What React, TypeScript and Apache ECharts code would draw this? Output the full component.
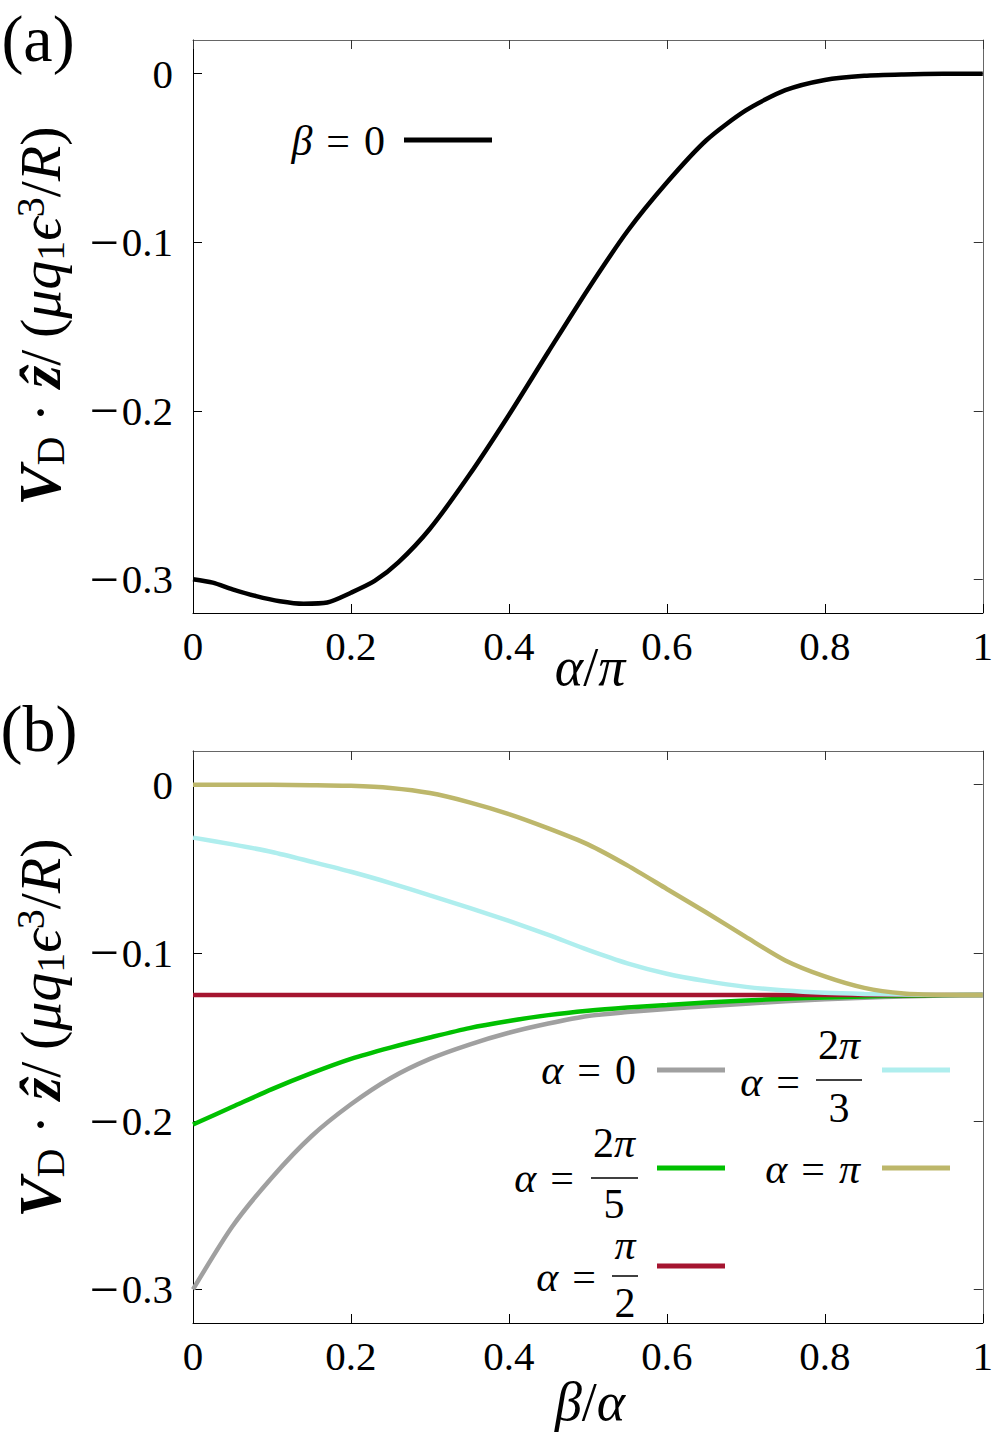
import React, { useEffect, useRef } from "react";
import * as echarts from "echarts";

// ---------- data ----------
// panel (a): beta = 0, x = alpha/pi
const alphaA = [0, 0.025, 0.05, 0.08, 0.11, 0.14, 0.17, 0.2, 0.23, 0.26, 0.3, 0.35, 0.4, 0.45, 0.5, 0.55, 0.6, 0.65, 0.7, 0.75, 0.8, 0.85, 0.9, 0.95, 1.0];
const vBeta0 = [-0.3, -0.302, -0.306, -0.31, -0.313, -0.3145, -0.3138, -0.308, -0.301, -0.29, -0.27, -0.238, -0.2025, -0.165, -0.128, -0.0935, -0.0646, -0.0395, -0.0218, -0.0098, -0.0037, -0.0012, -0.0004, -0.0001, 0];

// panel (b): x = beta/alpha
const ratioB = [0, 0.05, 0.1, 0.15, 0.2, 0.25, 0.3, 0.35, 0.4, 0.45, 0.5, 0.55, 0.6, 0.65, 0.7, 0.75, 0.8, 0.85, 0.9, 0.95, 1.0];
const vAlpha0 = [-0.3, -0.2625, -0.2335, -0.209, -0.19, -0.1745, -0.163, -0.1545, -0.1475, -0.142, -0.1375, -0.1352, -0.1333, -0.1317, -0.1302, -0.1288, -0.1276, -0.1266, -0.1259, -0.1253, -0.125];
const vAlpha2pi5 = [-0.202, -0.1915, -0.181, -0.1715, -0.163, -0.1563, -0.1503, -0.1447, -0.1405, -0.137, -0.1344, -0.1325, -0.131, -0.1295, -0.1283, -0.1273, -0.1265, -0.1259, -0.1255, -0.1252, -0.125];
const vAlphaPi2 = [-0.125, -0.125, -0.125, -0.125, -0.125, -0.125, -0.125, -0.125, -0.125, -0.125, -0.125, -0.125, -0.125, -0.125, -0.125, -0.125, -0.125, -0.125, -0.125, -0.125, -0.125];
const vAlpha2pi3 = [-0.0315, -0.0355, -0.04, -0.0458, -0.0518, -0.0585, -0.0658, -0.0732, -0.081, -0.0893, -0.0982, -0.1062, -0.1124, -0.1168, -0.1202, -0.1224, -0.1237, -0.1244, -0.1248, -0.125, -0.125];
const vAlphaPi = [0, 0, -0.0001, -0.0003, -0.0007, -0.002, -0.005, -0.0105, -0.0175, -0.026, -0.0355, -0.048, -0.062, -0.076, -0.0905, -0.1045, -0.114, -0.1208, -0.1241, -0.1249, -0.125];

const yTicks = [-0.3, -0.2, -0.1, 0];
const yMin = -0.32;
const yMax = 0.02;

const colors = {
  a0: "#a0a0a0",
  a2pi5: "#00c000",
  api2: "#a51530",
  a2pi3: "#afeeee",
  api: "#bdb76b",
};

const SERIF = "Liberation Serif, DejaVu Serif, serif";
const SP = "\u2004"; // three-per-em space, for math-like spacing around "="

export default function App() {
  const ref = useRef<HTMLDivElement>(null);

  useEffect(() => {
    if (!ref.current) return;
    const chart = echarts.init(ref.current, undefined, { renderer: "svg" });

    const zip = (xs: number[], ys: number[]) => xs.map((x, i) => [x, ys[i]]);

    const grids = [
      { left: 193, top: 40, width: 795, height: 573 },
      { left: 193, top: 751, width: 795, height: 572 },
    ];

    const xAxes: any[] = [];
    const yAxes: any[] = [];
    grids.forEach((_, gi) => {
      xAxes.push({
        gridIndex: gi,
        type: "value",
        min: 0,
        max: 1,
        interval: 0.2,
        position: "bottom",
        axisLine: { onZero: false, lineStyle: { color: "#000", width: 1 } },
        axisTick: { inside: true, length: 9, lineStyle: { color: "#000", width: 1 } },
        axisLabel: { fontFamily: SERIF, fontSize: 41, color: "#000", margin: 12 },
        splitLine: { show: false },
      });
      xAxes.push({
        gridIndex: gi,
        type: "value",
        min: 0,
        max: 1,
        interval: 0.2,
        position: "top",
        axisLine: { onZero: false, lineStyle: { color: "#666", width: 1 } },
        axisTick: { inside: true, length: 9, lineStyle: { color: "#333", width: 1 } },
        axisLabel: { show: false },
        splitLine: { show: false },
      });
      yAxes.push({
        gridIndex: gi,
        type: "value",
        min: yMin,
        max: yMax,
        position: "left",
        axisLine: { show: true, onZero: false, lineStyle: { color: "#000", width: 1 } },
        axisTick: { show: true, inside: true, length: 9, customValues: yTicks, lineStyle: { color: "#000", width: 1 } },
        axisLabel: {
          customValues: yTicks,
          fontFamily: SERIF,
          fontSize: 41,
          color: "#000",
          margin: 20,
          formatter: (v: number) => (Math.abs(v) < 1e-9 ? "{n|0}" : "{m|\u2212}{n|" + Math.abs(v).toFixed(1) + "}"),
          rich: {
            m: { fontFamily: SERIF, fontSize: 52, color: "#000", padding: [0, 3, 0, 0] },
            n: { fontFamily: SERIF, fontSize: 41, color: "#000" },
          },
        },
        splitLine: { show: false },
      });
      yAxes.push({
        gridIndex: gi,
        type: "value",
        min: yMin,
        max: yMax,
        position: "right",
        axisLine: { show: true, onZero: false, lineStyle: { color: "#666", width: 1 } },
        axisTick: { show: true, inside: true, length: 9, customValues: yTicks, lineStyle: { color: "#333", width: 1 } },
        axisLabel: { show: false },
        splitLine: { show: false },
      });
    });

    const line = (data: number[][], color: string, xi: number, yi: number, name: string, width: number) => ({
      type: "line",
      name,
      xAxisIndex: xi,
      yAxisIndex: yi,
      data,
      showSymbol: false,
      symbol: "none",
      smooth: 0.25,
      lineStyle: { color, width },
      z: 3,
    });

    const ylabelRich = {
      v: { fontFamily: SERIF, fontSize: 60, fontWeight: "bold", fontStyle: "italic", fill: "#000" },
      sub: { fontFamily: SERIF, fontSize: 40, fill: "#000", lineHeight: 24, verticalAlign: "bottom" },
      sup: { fontFamily: SERIF, fontSize: 40, fill: "#000", lineHeight: 30, verticalAlign: "top" },
      n: { fontFamily: SERIF, fontSize: 58, fill: "#000" },
      z: { fontFamily: SERIF, fontSize: 58, fontWeight: "bold", fontStyle: "italic", fill: "#000" },
      i: { fontFamily: SERIF, fontSize: 58, fontStyle: "italic", fill: "#000" },
    };
    const ylabelText = "{v|V}{sub|D}{n|\u2005·\u2005}{z|ẑ}{n|/\u2009(}{i|μq}{sub|1}{i|ϵ}{sup|3}{n|/}{i|R}{n|)}";

    const mathRich = {
      i: { fontFamily: SERIF, fontSize: 42, fontStyle: "italic", fill: "#000" },
      n: { fontFamily: SERIF, fontSize: 42, fill: "#000" },
    };

    const txt = (x: number, y: number, text: string, align: string) => ({
      type: "text",
      x,
      y,
      style: { text, rich: mathRich, align, verticalAlign: "middle", fontFamily: SERIF, fontSize: 42, fill: "#000" },
    });
    const seg = (x1: number, y1: number, x2: number, y2: number, color: string, width: number) => ({
      type: "line",
      shape: { x1, y1, x2, y2 },
      style: { stroke: color, lineWidth: width },
    });
    const axisNameRich = {
      i: { fontFamily: SERIF, fontSize: 54, fontStyle: "italic", fill: "#000" },
      n: { fontFamily: SERIF, fontSize: 54, fill: "#000" },
    };

    const graphic: any[] = [
      // panel labels
      { type: "text", x: 38, y: 38, style: { text: "(a)", fontFamily: SERIF, fontSize: 66, fill: "#000", align: "center", verticalAlign: "middle" } },
      { type: "text", x: 39, y: 728, style: { text: "(b)", fontFamily: SERIF, fontSize: 66, fill: "#000", align: "center", verticalAlign: "middle" } },
      // y labels
      { type: "text", x: 40, y: 316, rotation: Math.PI / 2, style: { text: ylabelText, rich: ylabelRich, align: "center", verticalAlign: "middle" } },
      { type: "text", x: 40, y: 1028, rotation: Math.PI / 2, style: { text: ylabelText, rich: ylabelRich, align: "center", verticalAlign: "middle" } },
      // x labels
      { type: "text", x: 590, y: 667, style: { text: "{i|α}{n|/}{i|π}", rich: axisNameRich, align: "center", verticalAlign: "middle" } },
      { type: "text", x: 590, y: 1402, style: { text: "{i|β}{n|/}{i|α}", rich: axisNameRich, align: "center", verticalAlign: "middle" } },
      // legend (a)
      txt(385, 141, `{i|β}{n|${SP}=${SP}0}`, "right"),
      seg(404, 140, 492, 140, "#000", 5),
      // legend (b): alpha = 0
      txt(636, 1070, `{i|α}{n|${SP}=${SP}0}`, "right"),
      seg(657, 1070, 725, 1070, colors.a0, 5),
      // alpha = 2pi/3
      txt(800, 1082, `{i|α}{n|${SP}=}`, "right"),
      txt(839, 1045, "{n|2}{i|π}", "center"),
      seg(816, 1080, 862, 1080, "#000", 1.5),
      txt(839, 1108, "3", "center"),
      seg(882, 1070, 950, 1070, colors.a2pi3, 5),
      // alpha = 2pi/5
      txt(574, 1178, `{i|α}{n|${SP}=}`, "right"),
      txt(614, 1143, "{n|2}{i|π}", "center"),
      seg(591, 1178, 638, 1178, "#000", 1.5),
      txt(614, 1204, "5", "center"),
      seg(657, 1168, 725, 1168, colors.a2pi5, 5),
      // alpha = pi
      txt(860, 1169, `{i|α}{n|${SP}=${SP}}{i|π}`, "right"),
      seg(882, 1168, 950, 1168, colors.api, 5),
      // alpha = pi/2
      txt(596, 1277, `{i|α}{n|${SP}=}`, "right"),
      txt(625, 1245, "{i|π}", "center"),
      seg(612, 1276, 638, 1276, "#000", 1.5),
      txt(625, 1303, "2", "center"),
      seg(657, 1266, 725, 1266, colors.api2, 5),
    ];

    chart.setOption({
      animation: false,
      backgroundColor: "#fff",
      grid: grids,
      xAxis: xAxes,
      yAxis: yAxes,
      series: [
        line(zip(alphaA, vBeta0), "#000", 0, 0, "beta0", 4.5),
        line(zip(ratioB, vAlpha0), colors.a0, 2, 2, "alpha=0", 4.5),
        line(zip(ratioB, vAlpha2pi5), colors.a2pi5, 2, 2, "alpha=2pi/5", 4.5),
        line(zip(ratioB, vAlphaPi2), colors.api2, 2, 2, "alpha=pi/2", 4.5),
        line(zip(ratioB, vAlpha2pi3), colors.a2pi3, 2, 2, "alpha=2pi/3", 4.5),
        line(zip(ratioB, vAlphaPi), colors.api, 2, 2, "alpha=pi", 4.5),
      ],
      graphic,
    });

    return () => chart.dispose();
  }, []);

  return <div ref={ref} style={{ position: "absolute", left: 0, top: 0, width: 996, height: 1432 }} />;
}
